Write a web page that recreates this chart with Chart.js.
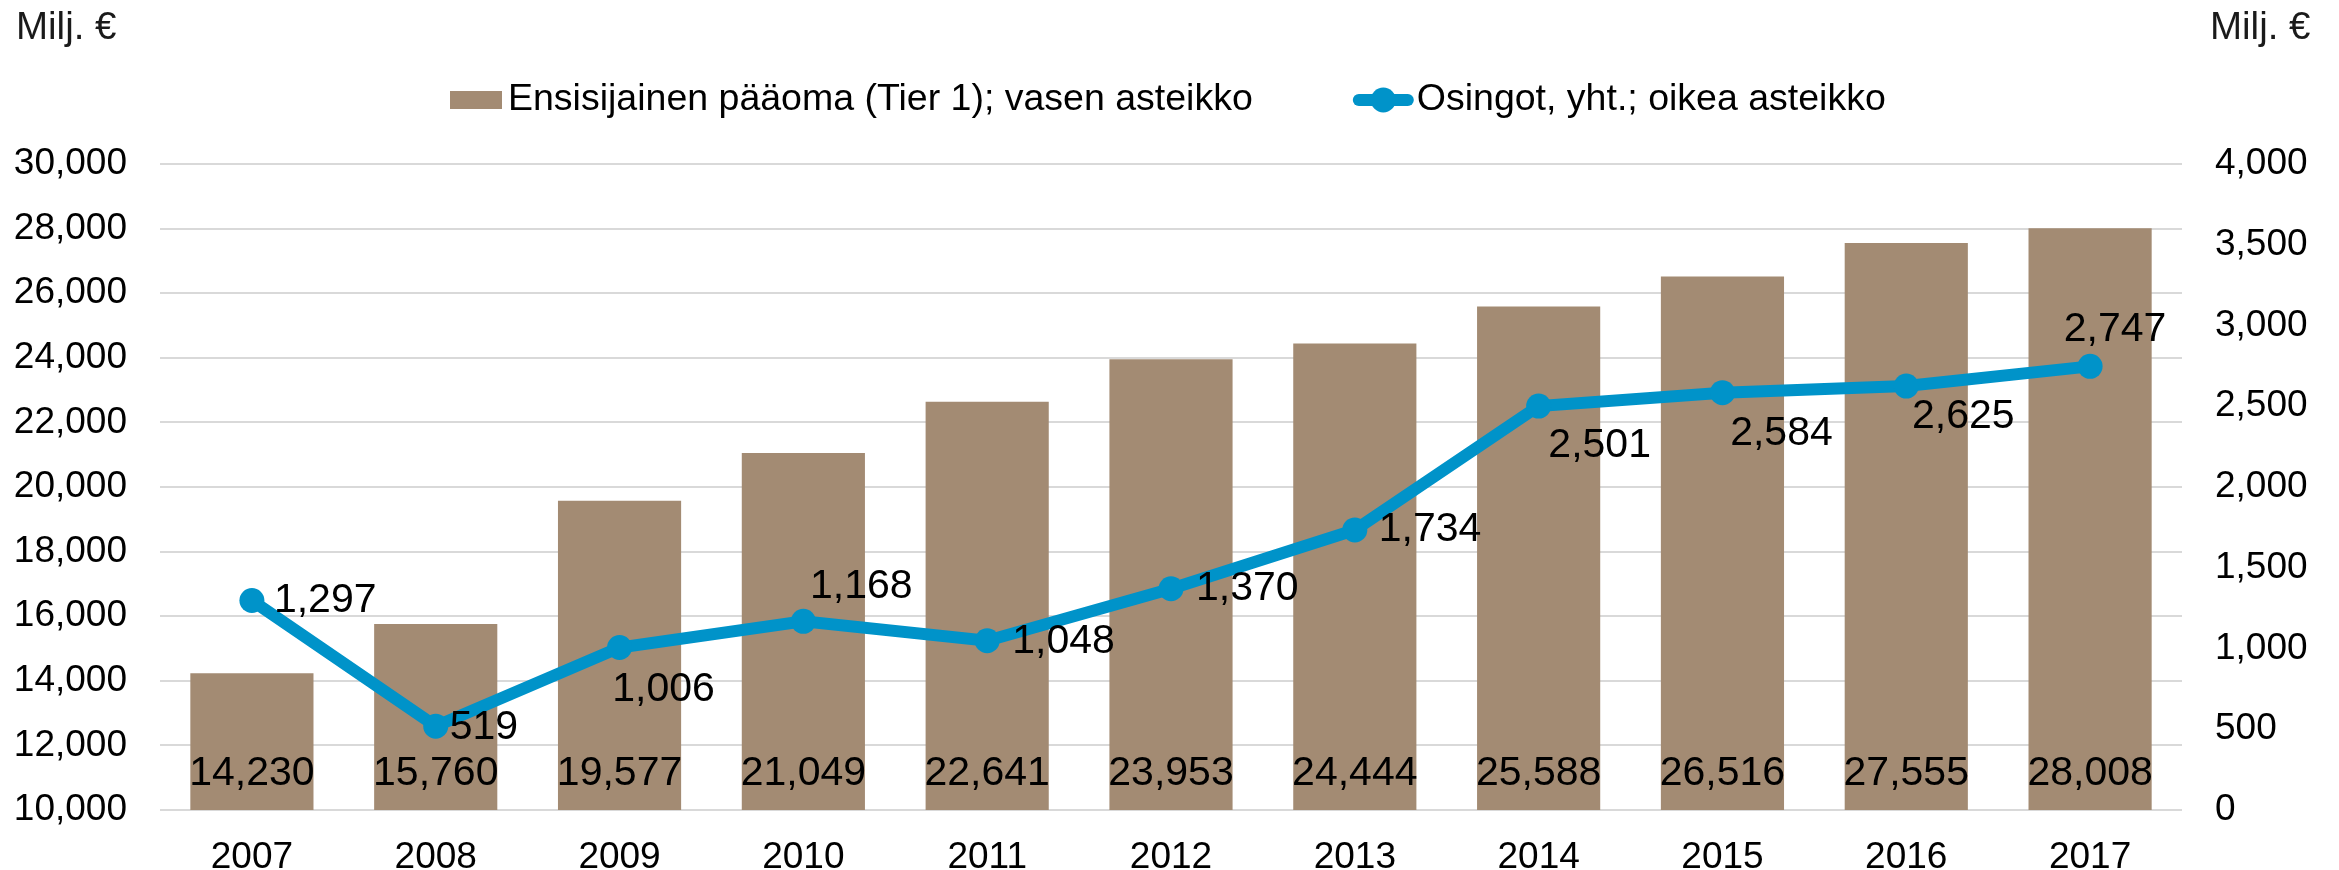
<!DOCTYPE html>
<html>
<head>
<meta charset="utf-8">
<script src="https://cdn.jsdelivr.net/npm/chart.js@4.4.0/dist/chart.umd.min.js"></script>
<style>
    html, body { margin: 0; padding: 0; background: #fff; }
    #wrap { width: 2339px; height: 870px; }
</style>
</head>
<body>
<div id="wrap"><canvas id="chart" width="2339" height="870"></canvas></div>
<script>
// Data
const years = ['2007', '2008', '2009', '2010', '2011', '2012', '2013', '2014', '2015', '2016', '2017'];
const tier1Capital = [14230, 15760, 19577, 21049, 22641, 23953, 24444, 25588, 26516, 27555, 28008];
const dividends = [1297, 519, 1006, 1168, 1048, 1370, 1734, 2501, 2584, 2625, 2747];

const barLabel = 'Ensisijainen pääoma (Tier 1); vasen asteikko';
const lineLabel = 'Osingot, yht.; oikea asteikko';
const unitLabel = 'Milj. €';

const FONT = "'Liberation Sans', Arial, sans-serif";
const BAR_COLOR = '#A38B73';
const LINE_COLOR = '#0093C9';
const GRID_COLOR = '#D9D9D9';

// where each dividend label sits relative to its point (Excel had them hand-placed)
const dividendLabelPos = [
    { align: 'left', dx: 22, dy: 0 },
    { align: 'left', dx: 14, dy: 2 },
    { align: 'center', dx: 44, dy: 42 },
    { align: 'center', dx: 58, dy: -35 },
    { align: 'left', dx: 25, dy: 1 },
    { align: 'left', dx: 25, dy: 0 },
    { align: 'left', dx: 24, dy: 0 },
    { align: 'center', dx: 61, dy: 40 },
    { align: 'center', dx: 59, dy: 41 },
    { align: 'center', dx: 57, dy: 31 },
    { align: 'center', dx: 25, dy: -37 }
];

function fmt(v) {
    return Number(v).toLocaleString('en-US');
}

// Value labels, legend and the "Milj. €" captions
const overlayPlugin = {
    id: 'overlay',
    afterDatasetsDraw(chart) {
        const ctx = chart.ctx;
        const area = chart.chartArea;
        ctx.save();
        ctx.fillStyle = '#000';
        ctx.textBaseline = 'middle';
        ctx.font = '41px ' + FONT;

        ctx.textAlign = 'center';
        chart.getDatasetMeta(0).data.forEach((bar, i) => {
            ctx.fillText(fmt(tier1Capital[i]), bar.x, area.bottom - 36);
        });

        chart.getDatasetMeta(1).data.forEach((pt, i) => {
            const p = dividendLabelPos[i];
            ctx.textAlign = p.align;
            ctx.fillText(fmt(dividends[i]), pt.x + p.dx, pt.y + p.dy);
        });
        ctx.restore();
    },
    afterDraw(chart) {
        const ctx = chart.ctx;
        ctx.save();
        ctx.textBaseline = 'middle';
        ctx.textAlign = 'left';

        // legend
        ctx.font = '37.5px ' + FONT;
        const w1 = ctx.measureText(barLabel).width;
        let x = 450;
        const y = 100;

        ctx.fillStyle = BAR_COLOR;
        ctx.fillRect(x, y - 9, 52, 18);
        x += 58;
        ctx.fillStyle = '#000';
        ctx.fillText(barLabel, x, y);
        x += w1 + 100;

        ctx.strokeStyle = LINE_COLOR;
        ctx.lineWidth = 12;
        ctx.lineCap = 'round';
        ctx.beginPath();
        ctx.moveTo(x + 6, y);
        ctx.lineTo(x + 55, y);
        ctx.stroke();
        ctx.beginPath();
        ctx.arc(x + 30.5, y, 12.5, 0, Math.PI * 2);
        ctx.fillStyle = LINE_COLOR;
        ctx.fill();
        x += 64;
        ctx.fillStyle = '#000';
        ctx.fillText(lineLabel, x, y);

        // unit captions
        ctx.font = '38.5px ' + FONT;
        ctx.fillStyle = '#1a1a1a';
        ctx.fillText(unitLabel, 16, 28);
        ctx.fillText(unitLabel, 2210, 28);
        ctx.restore();
    }
};

const tickFont = { family: FONT, size: 37 };

new Chart(document.getElementById('chart'), {
    type: 'bar',
    data: {
        labels: years,
        datasets: [
            {
                type: 'bar',
                label: barLabel,
                data: tier1Capital,
                backgroundColor: BAR_COLOR,
                yAxisID: 'y',
                barPercentage: 0.67,
                categoryPercentage: 1,
                order: 1
            },
            {
                type: 'line',
                label: lineLabel,
                data: dividends,
                borderColor: LINE_COLOR,
                backgroundColor: LINE_COLOR,
                borderWidth: 12,
                pointRadius: 12.5,
                pointHoverRadius: 12.5,
                pointBorderWidth: 0,
                pointBackgroundColor: LINE_COLOR,
                tension: 0,
                yAxisID: 'y1',
                order: 0
            }
        ]
    },
    options: {
        responsive: false,
        animation: false,
        layout: {
            padding: { top: 164, left: 0, right: 0, bottom: 0 }
        },
        plugins: {
            legend: { display: false },
            tooltip: { enabled: false }
        },
        scales: {
            x: {
                offset: true,
                grid: { display: false, drawTicks: false },
                border: { display: false },
                ticks: { color: '#000', font: tickFont, padding: 26, maxRotation: 0 },
                afterFit(scale) { scale.height = 60; }
            },
            y: {
                position: 'left',
                min: 10000,
                max: 30000,
                grid: { color: GRID_COLOR, lineWidth: 2, drawTicks: false },
                border: { display: false },
                ticks: {
                    stepSize: 2000,
                    color: '#000',
                    font: tickFont,
                    padding: 33,
                    callback: v => fmt(v)
                },
                afterFit(scale) { scale.width = 160; }
            },
            y1: {
                position: 'right',
                min: 0,
                max: 4000,
                grid: { display: false, drawTicks: false },
                border: { display: false },
                ticks: {
                    stepSize: 500,
                    color: '#000',
                    font: tickFont,
                    padding: 33,
                    callback: v => fmt(v)
                },
                afterFit(scale) { scale.width = 157; }
            }
        }
    },
    plugins: [overlayPlugin]
});
</script>
</body>
</html>
